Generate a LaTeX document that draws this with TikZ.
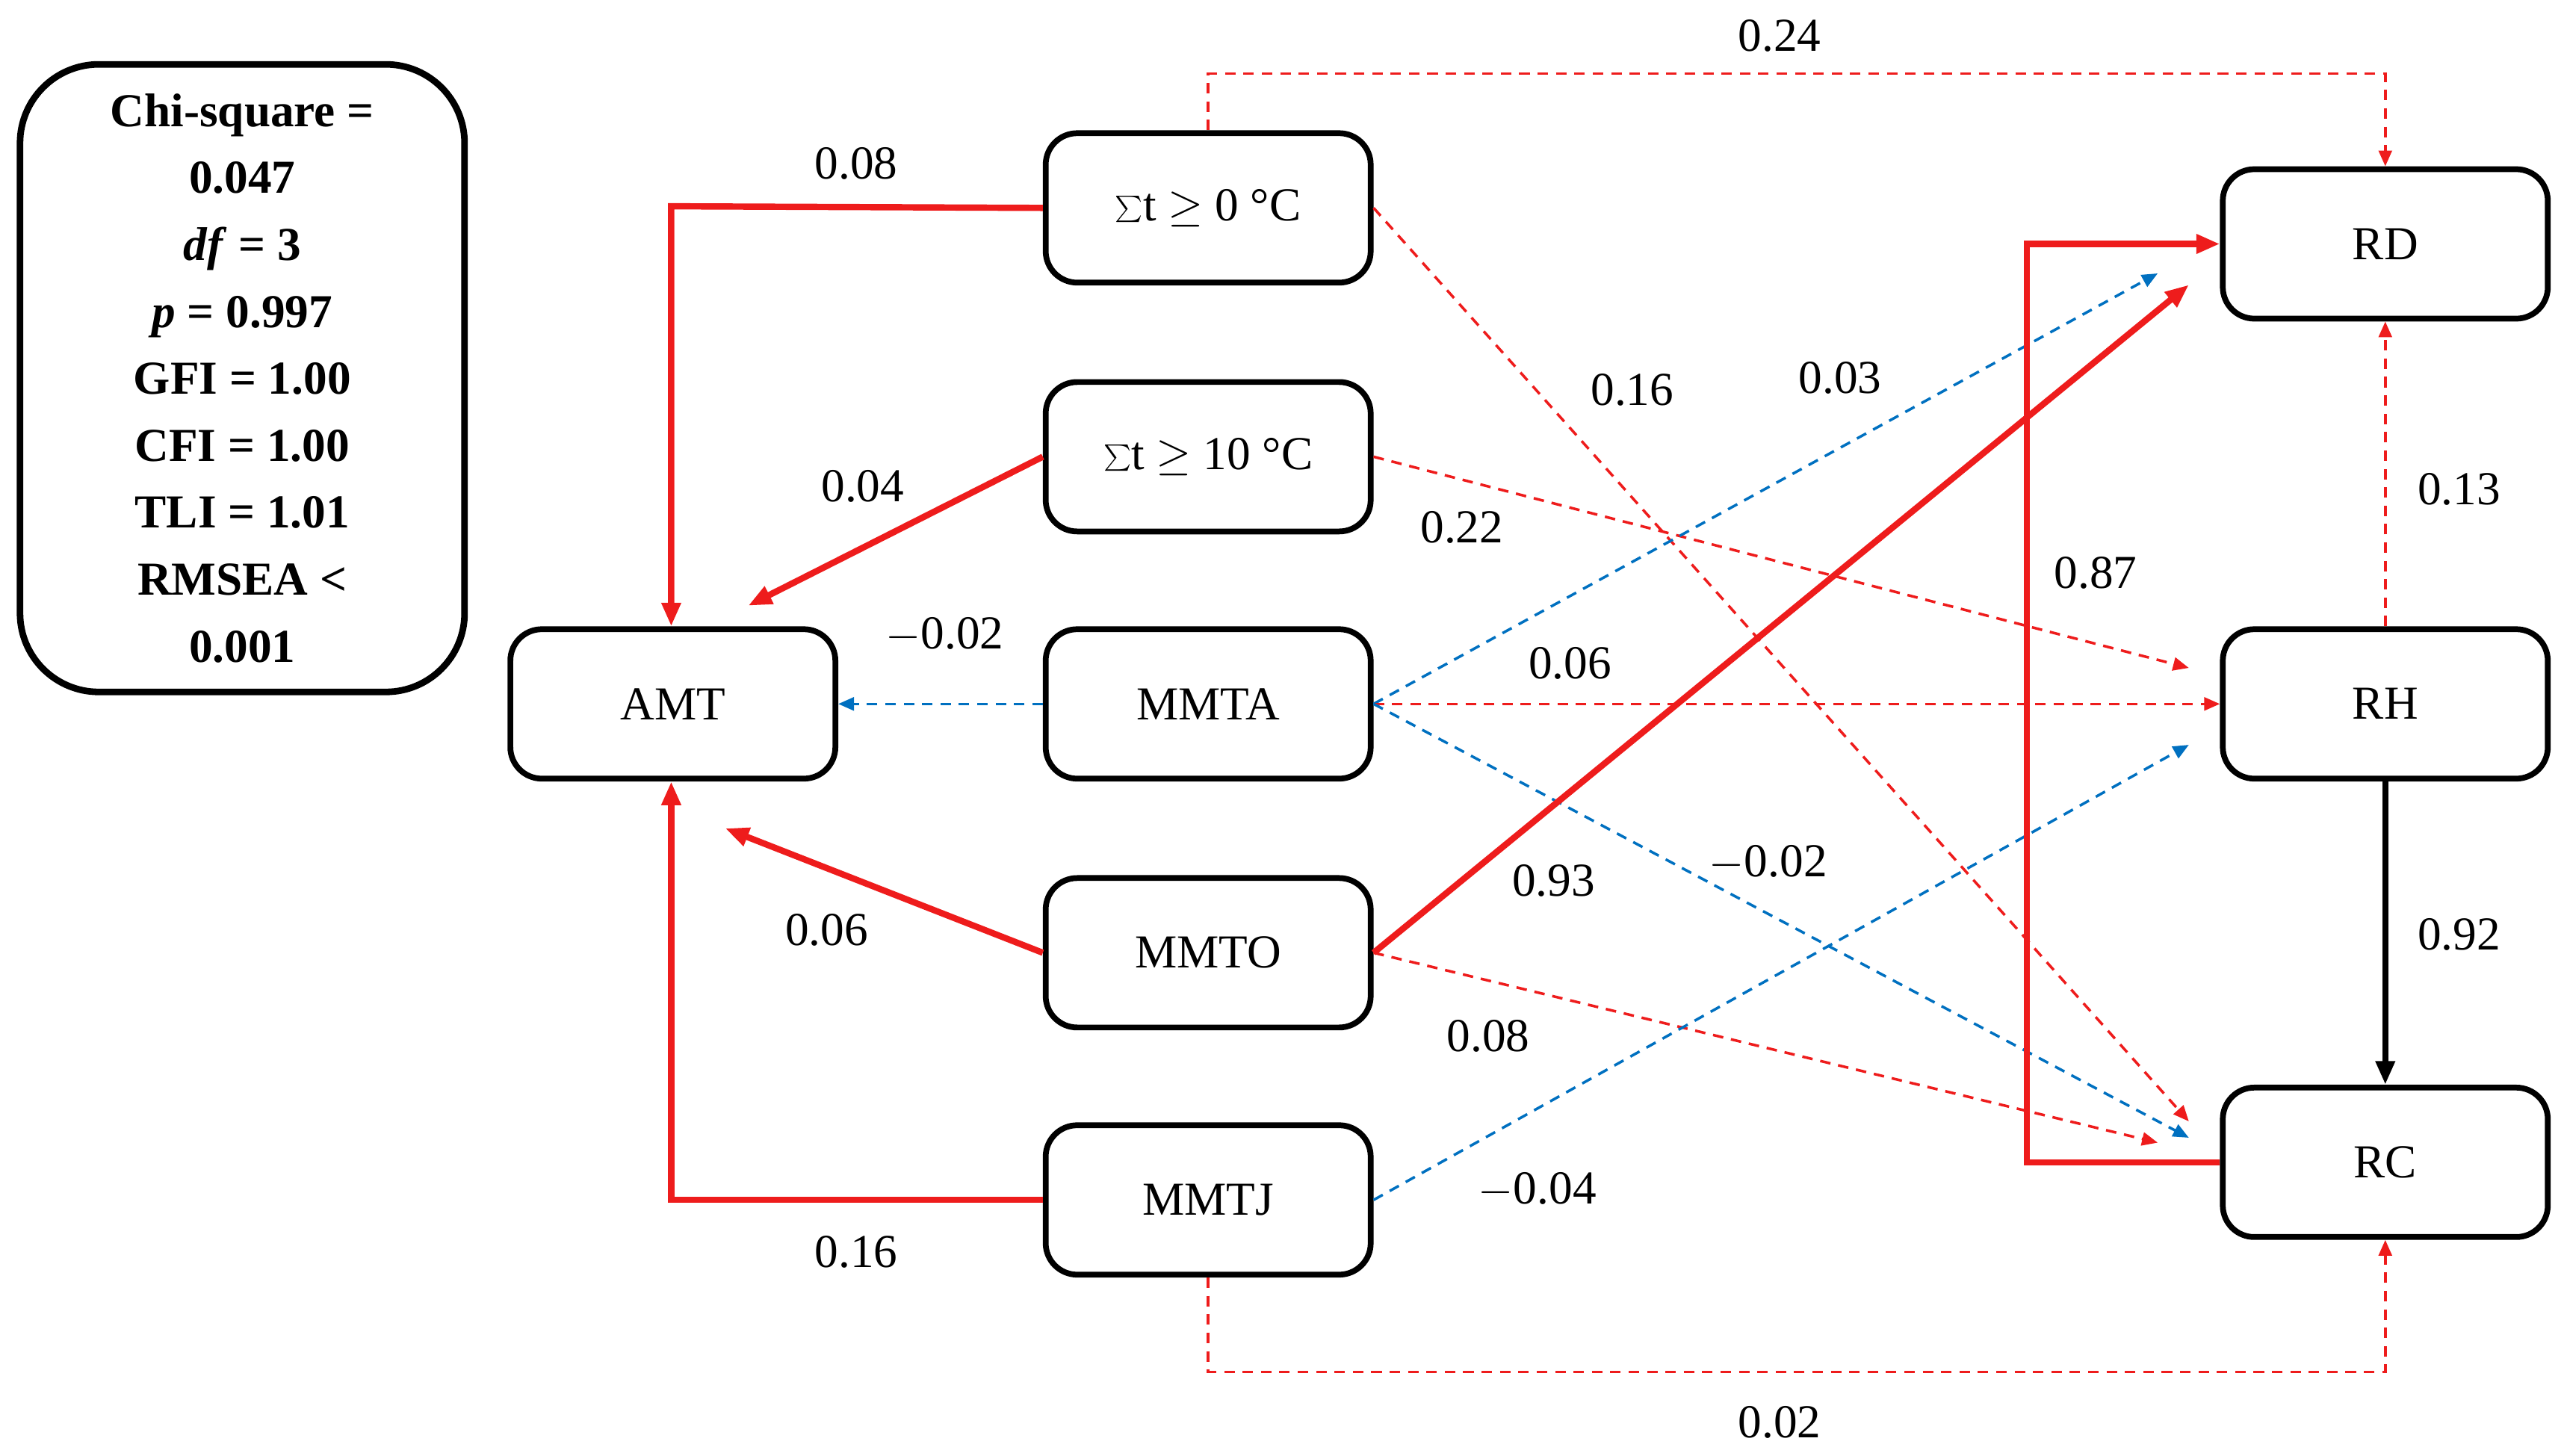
\documentclass[tikz,border=0pt]{standalone}
\usepackage{fontspec}
\setmainfont{Liberation Serif}
\usetikzlibrary{arrows.meta}
\definecolor{myred}{RGB}{238,28,28}
\definecolor{myblue}{RGB}{0,112,192}
\begin{document}
\begin{tikzpicture}[x=0.021913cm,y=-0.021913cm,
  box/.style={draw=black,line width=2.2pt,rounded corners=12pt,minimum width=4.35cm,minimum height=2.0cm,font=\fontsize{18}{22}\selectfont,inner sep=0pt},
  lab/.style={font=\fontsize{18}{22}\selectfont},
  sr/.style={draw=myred,line width=2.4pt,-{Triangle[length=9pt,width=7pt]}},
  dr/.style={draw=myred,line width=1pt,dash pattern=on 4pt off 3pt,-{Triangle[length=6pt,width=5pt]}},
  db/.style={draw=myblue,line width=1pt,dash pattern=on 4pt off 3pt,-{Triangle[length=6pt,width=5pt]}},
  sk/.style={draw=black,line width=2.4pt,-{Triangle[length=9pt,width=7pt]}}]
\useasboundingbox (0,0) rectangle (1568,889);
\node[draw,line width=2.5pt,rounded corners=30pt,minimum width=5.95cm,minimum height=8.4cm,align=center,font=\bfseries\fontsize{18}{25.5}\selectfont] (stats) at (148,231)
 {Chi-square =\\0.047\\\textit{df} = 3\\\textit{p} = 0.997\\GFI = 1.00\\CFI = 1.00\\TLI = 1.01\\RMSEA <\\0.001};
\node[box] (AMT) at (411,430) {AMT};
\node[box] (T0) at (738,127) {$\sum$t $\geq$ 0 \textdegree C};
\node[box] (T10) at (738,279) {$\sum$t $\geq$ 10 \textdegree C};
\node[box] (MMTA) at (738,430) {MMTA};
\node[box] (MMTO) at (738,582) {MMTO};
\node[box] (MMTJ) at (738,733) {MMTJ};
\node[box] (RD) at (1457,149) {RD};
\node[box] (RH) at (1457,430) {RH};
\node[box] (RC) at (1457,710) {RC};
\coordinate (a1) at (457,370);
\coordinate (a2) at (443,506);
\coordinate (p1) at (1337,685);
\coordinate (p2) at (1337,408);
\coordinate (p3) at (1318,167);
\coordinate (p4) at (1337,695);
\coordinate (p5) at (1337,174);
\coordinate (p6) at (1318,698);
\coordinate (p7) at (1337,455);
% to AMT
\draw[sr] (T0.west) -- (410,126) -- (AMT.north -| 410,0);
\draw[sr] (T10.west) -- (a1);
\draw[db] (MMTA.west) -- (AMT.east);
\draw[sr] (MMTO.west) -- (a2);
\draw[sr] (MMTJ.west) -- (410,733) -- (AMT.south -| 410,0);
% to R*
\draw[dr] (T0.north) -- (738,45) -- (1457,45) -- (RD.north);
\draw[dr] (T0.east) -- (p1);
\draw[dr] (T10.east) -- (p2);
\draw[db] (MMTA.east) -- (p3);
\draw[dr] (MMTA.east) -- (RH.west);
\draw[db] (MMTA.east) -- (p4);
\draw[sr] (MMTO.east) -- (p5);
\draw[dr] (MMTO.east) -- (p6);
\draw[db] (MMTJ.east) -- (p7);
\draw[dr] (MMTJ.south) -- (738,838) -- (1457,838) -- (RC.south);
\draw[sr] (RC.west) -- (1238,710) -- (1238,149) -- (RD.west);
\draw[dr] (RH.north) -- (RD.south);
\draw[sk] (RH.south) -- (RC.north);
% labels
\node[lab] (l1) at (523,100) {0.08};
\node[lab] (l2) at (527,297) {0.04};
\node[lab] (l3) at (577,388) {$-$0.02};
\node[lab] (l4) at (505,568) {0.06};
\node[lab] (l5) at (523,765) {0.16};
\node[lab] (l6) at (1087,22) {0.24};
\node[lab] (l7) at (997,238) {0.16};
\node[lab] (l8) at (893,322) {0.22};
\node[lab] (l9) at (1124,231) {0.03};
\node[lab] (l10) at (959,405) {0.06};
\node[lab] (l11) at (1080,527) {$-$0.02};
\node[lab] (l12) at (949,538) {0.93};
\node[lab] (l13) at (909,633) {0.08};
\node[lab] (l14) at (939,727) {$-$0.04};
\node[lab] (l15) at (1087,869) {0.02};
\node[lab] (l16) at (1280,350) {0.87};
\node[lab] (l17) at (1502,299) {0.13};
\node[lab] (l18) at (1502,571) {0.92};
\end{tikzpicture}
\end{document}
